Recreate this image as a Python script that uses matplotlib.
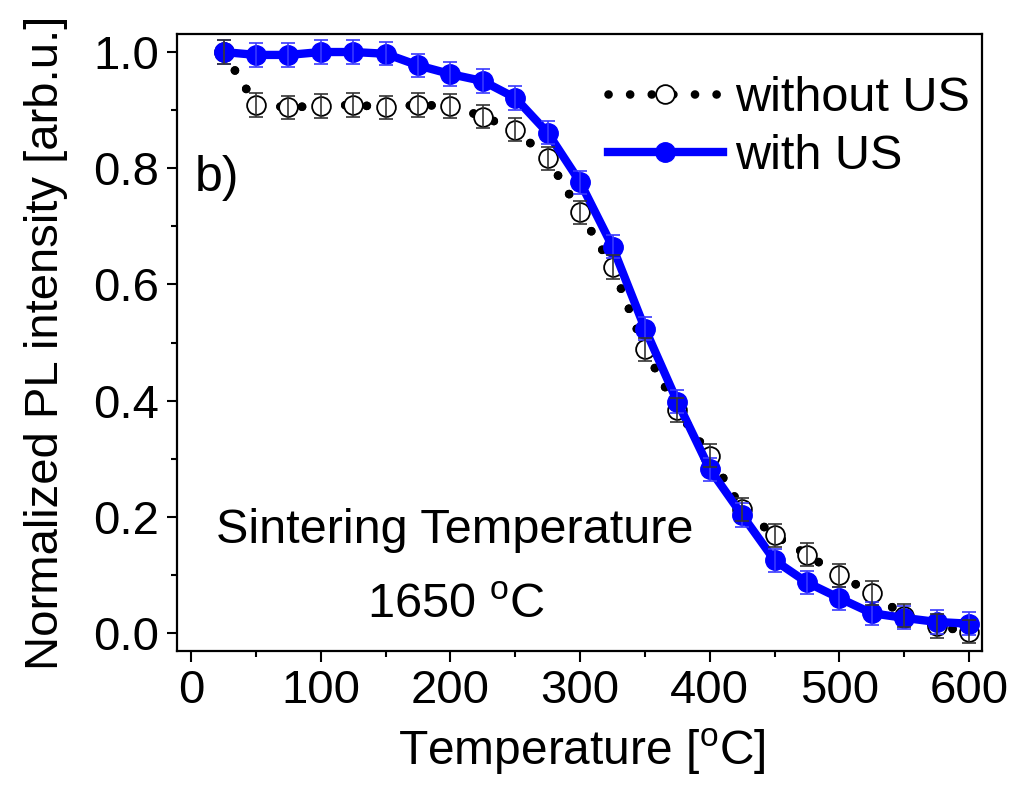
import matplotlib
matplotlib.use("Agg")
import matplotlib.pyplot as plt
from matplotlib.ticker import MultipleLocator, FormatStrFormatter

plt.rcParams['font.family'] = ['Liberation Sans', 'DejaVu Sans']
plt.rcParams['mathtext.fontset'] = 'custom'
plt.rcParams['mathtext.rm'] = 'Liberation Sans'
plt.rcParams['mathtext.it'] = 'Liberation Sans'

temps = [25, 50, 75, 100, 125, 150, 175, 200, 225, 250, 275, 300,
         325, 350, 375, 400, 425, 450, 475, 500, 525, 550, 575, 600]
with_us = [1.000, 0.995, 0.995, 1.000, 1.000, 0.997, 0.977, 0.962, 0.950, 0.921, 0.861, 0.776,
           0.665, 0.524, 0.398, 0.282, 0.203, 0.125, 0.087, 0.060, 0.034, 0.026, 0.019, 0.016]
with_err = [0.02, 0.02, 0.02, 0.02, 0.02, 0.02, 0.02, 0.02, 0.02, 0.02, 0.02, 0.02,
            0.02, 0.02, 0.02, 0.02, 0.02, 0.02, 0.02, 0.02, 0.02, 0.02, 0.02, 0.02]
without_us = [1.000, 0.909, 0.905, 0.907, 0.909, 0.905, 0.909, 0.907, 0.889, 0.866, 0.817, 0.724,
              0.630, 0.488, 0.384, 0.305, 0.213, 0.168, 0.135, 0.099, 0.069, 0.030, 0.012, 0.002]
without_err = [0.02, 0.02, 0.02, 0.02, 0.02, 0.02, 0.02, 0.02, 0.02, 0.02, 0.02, 0.02,
               0.02, 0.02, 0.02, 0.02, 0.02, 0.02, 0.02, 0.02, 0.02, 0.02, 0.02, 0.02]

labels = ["without US", "with US"]

fig = plt.figure(figsize=(10.33, 7.91), dpi=100)
ax = fig.add_axes([0.1713, 0.177, 0.7793, 0.780])

dotted = (0, (0.01, 2.5))

# without US: dotted line + open circles
ax.plot(temps, without_us, linestyle=dotted, dash_capstyle='round',
        color='black', lw=6.2, zorder=2)
ax.errorbar(temps, without_us, yerr=without_err, fmt='none', ecolor='#333333',
            elinewidth=1.2, capsize=5, capthick=1.2, zorder=4)
l1, = ax.plot(temps, without_us, linestyle=dotted, dash_capstyle='round',
              color='black', lw=6.2, marker='o', markersize=13.5, markerfacecolor='white',
              markeredgecolor='black', markeredgewidth=1.3, zorder=2.5)

# with US: thick blue line + filled circles
ax.errorbar(temps, with_us, yerr=with_err, fmt='none', ecolor='#3838ff',
            elinewidth=1.2, capsize=5, capthick=1.2, zorder=3.5)
l2, = ax.plot(temps, with_us, '-', color='#0000ff', lw=6, marker='o', markersize=14,
              markerfacecolor='#0000ff', markeredgecolor='#0000ff', zorder=3)

ax.set_xlim(-11, 610)
ax.set_ylim(-0.031, 1.031)
ax.xaxis.set_major_locator(MultipleLocator(100))
ax.xaxis.set_minor_locator(MultipleLocator(50))
ax.yaxis.set_major_locator(MultipleLocator(0.2))
ax.yaxis.set_minor_locator(MultipleLocator(0.1))
ax.yaxis.set_major_formatter(FormatStrFormatter('%.1f'))

for s in ax.spines.values():
    s.set_linewidth(1.6)
ax.tick_params(axis='both', which='major', direction='out', width=1.5, labelsize=34)
ax.tick_params(axis='x', which='major', length=8, pad=5)
ax.tick_params(axis='x', which='minor', length=4, width=1.5)
ax.tick_params(axis='y', which='major', length=7, pad=6)
ax.tick_params(axis='y', which='minor', length=4, width=1.5)

ax.set_xlabel("Temperature [$^\\mathrm{o}$C]", fontsize=34.5)
ax.set_ylabel("Normalized PL intensity [arb.u.]", fontsize=34)
ax.xaxis.set_label_coords(0.503, -0.122)
ax.yaxis.set_label_coords(-0.135, 0.5)

ax.text(3, 0.783, "b)", fontsize=36, va='center', ha='left')
ax.text(203.6, 0.177, "Sintering Temperature", fontsize=35, va='center', ha='center')
ax.text(204, 0.048, "1650 $^\\mathrm{o}$C", fontsize=35, va='center', ha='center')

ax.legend([l1, l2], labels, loc='upper right', bbox_to_anchor=(0.985, 0.932),
          frameon=False, fontsize=35, handlelength=2.37, handletextpad=0.25,
          labelspacing=0.27, borderaxespad=0.0, borderpad=0.0, numpoints=1)

fig.savefig("out.png", dpi=100)
